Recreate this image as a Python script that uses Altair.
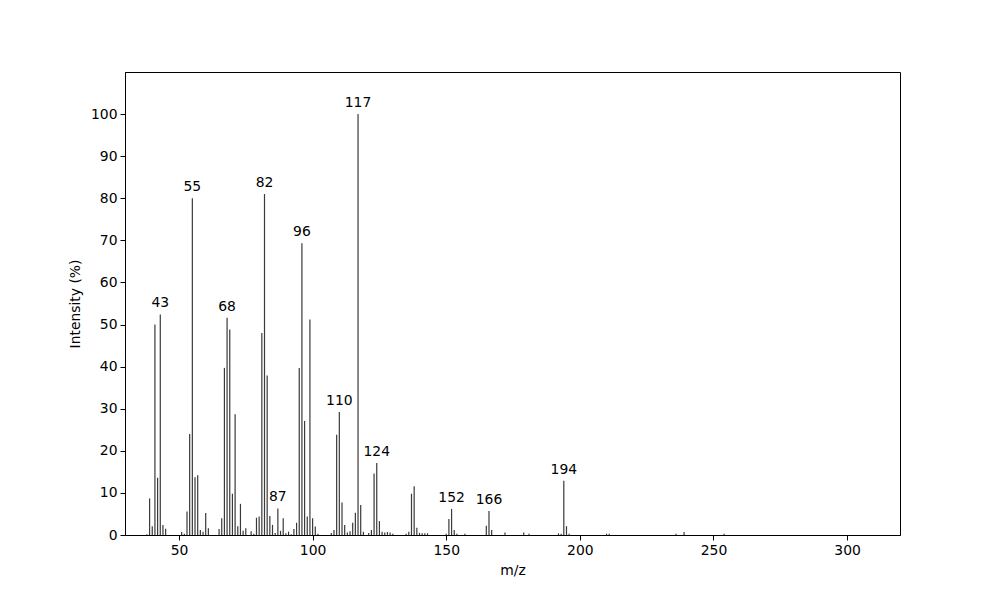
import altair as alt
import pandas as pd

mz = [38, 39, 40, 41, 42, 43, 44, 45, 51, 52, 53, 54, 55, 56, 57, 58, 59, 60, 61,
      65, 66, 67, 68, 69, 70, 71, 72, 73, 74, 75, 77, 78, 79, 80, 81, 82, 83, 84,
      85, 86, 87, 88, 89, 90, 91, 92, 93, 94, 95, 96, 97, 98, 99, 100, 101, 102,
      107, 108, 109, 110, 111, 112, 113, 114, 115, 116, 117, 118, 119, 121, 122,
      123, 124, 125, 126, 127, 128, 129, 130, 135, 136, 137, 138, 139, 140, 141,
      142, 143, 150, 151, 152, 153, 154, 157, 165, 166, 167, 172, 179, 181, 192,
      193, 194, 195, 196, 210, 211, 236, 239, 254]
intensity = [0.2, 8.7, 2.1, 50.0, 13.6, 52.4, 2.4, 1.5, 0.7, 0.3, 5.6, 24.0, 80.0,
             13.7, 14.2, 1.2, 0.8, 5.2, 1.6,
             1.4, 4.0, 39.7, 51.6, 48.8, 9.8, 28.7, 2.1, 7.4, 1.0, 1.6, 0.9, 0.3,
             4.1, 4.4, 48.0, 81.0, 37.9, 4.5,
             2.4, 0.5, 6.3, 1.0, 4.0, 0.4, 0.8, 0.2, 1.4, 2.9, 39.7, 69.3, 27.1,
             4.4, 51.2, 4.0, 2.0, 0.3,
             0.5, 1.2, 23.8, 29.2, 7.7, 2.4, 0.6, 0.9, 2.9, 5.3, 100.0, 7.1, 0.8,
             0.5, 1.2,
             14.6, 17.1, 3.3, 0.8, 0.6, 0.7, 0.6, 0.3, 0.3, 0.8, 9.8, 11.6, 1.7,
             0.5, 0.4,
             0.4, 0.4, 0.3, 3.8, 6.2, 1.2, 0.3, 0.3, 2.2, 5.7, 1.2, 0.6, 0.6, 0.3,
             0.4,
             0.3, 12.9, 2.1, 0.3, 0.3, 0.3, 0.3, 0.7, 0.3]
labelled_peaks = [43, 55, 68, 82, 87, 96, 110, 117, 124, 152, 166, 194]

df = pd.DataFrame({"mz": mz, "intensity": intensity})
df["label"] = [str(m) if m in labelled_peaks else "" for m in mz]

FONT = "DejaVu Sans"

x = alt.X("mz:Q",
          scale=alt.Scale(domain=[29.8, 319.8], nice=False, zero=False, padding=0),
          axis=alt.Axis(title="m/z", values=[50, 100, 150, 200, 250, 300],
                        titlePadding=7))
y = alt.Y("intensity:Q",
          scale=alt.Scale(domain=[0, 110], nice=False),
          axis=alt.Axis(title="Intensity (%)",
                        values=[0, 10, 20, 30, 40, 50, 60, 70, 80, 90, 100],
                        titlePadding=8))

bars = alt.Chart(df).mark_bar(size=1.2, color="#3a3a3a").encode(x=x, y=y)

labels = alt.Chart(df).transform_filter(alt.datum.label != "").mark_text(
    baseline="bottom", dy=-4, font=FONT, fontSize=13.9, color="black"
).encode(x="mz:Q", y="intensity:Q", text="label:N")

chart = alt.layer(bars, labels).properties(
    width=775, height=463,
    autosize=alt.AutoSizeParams(type="none"),
    padding={"left": 117, "top": 64, "right": 92, "bottom": 58},
).configure_view(
    stroke="black", strokeWidth=1
).configure_axis(
    grid=False, domainColor="black", tickColor="black", tickSize=5,
    labelFont=FONT, labelFontSize=13.9, labelColor="black", labelPadding=3,
    titleFont=FONT, titleFontSize=13.9, titleFontWeight="normal",
    titleColor="black",
)

chart.save("out.html", embed_options={"renderer": "svg", "actions": False})
